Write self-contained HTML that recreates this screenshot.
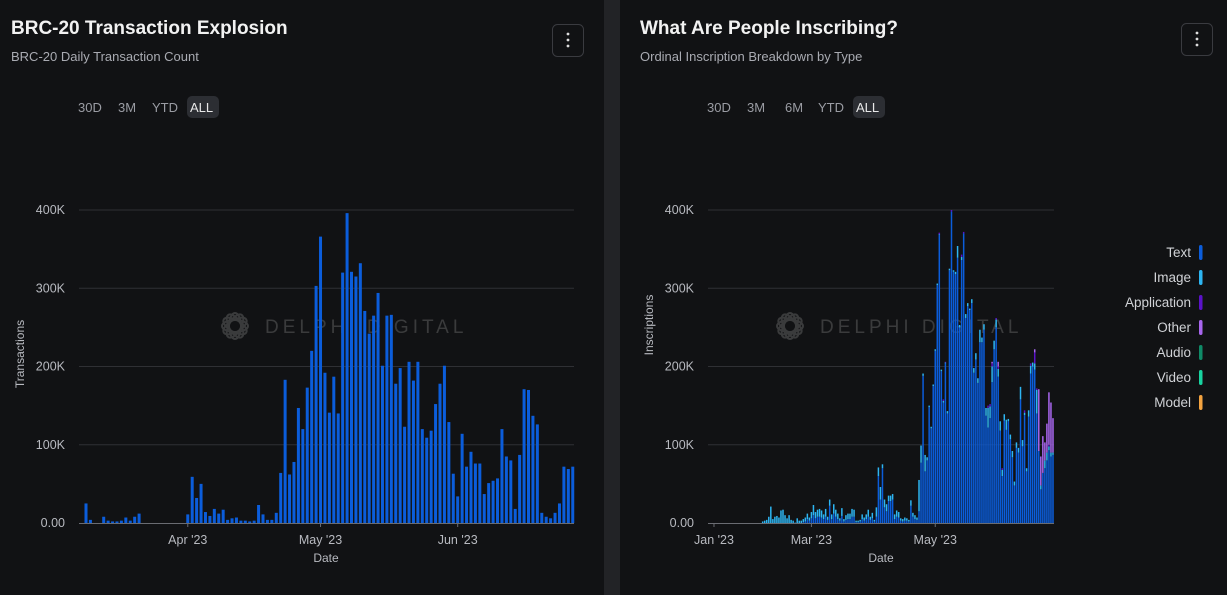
<!DOCTYPE html>
<html><head><meta charset="utf-8"><style>
html,body{margin:0;padding:0;background:#111214;}
svg{display:block;font-family:"Liberation Sans",sans-serif;}
</style></head><body>
<svg id="root" width="1227" height="595" viewBox="0 0 1227 595" xmlns="http://www.w3.org/2000/svg">
<rect x="0" y="0" width="1227" height="595" fill="#111214"/>
<rect x="604" y="0" width="16" height="595" fill="#222326"/>

<g>
<text x="11" y="34" fill="#f2f2f2" font-size="19" font-weight="bold">BRC-20 Transaction Explosion</text>
<text x="11" y="61" fill="#a9abb2" font-size="13">BRC-20 Daily Transaction Count</text>
<rect x="552.5" y="24.5" width="31" height="32" rx="5" fill="none" stroke="#3a3b40"/>
<g fill="#ddd"><circle cx="568" cy="34" r="1.4"/><circle cx="568" cy="40" r="1.4"/><circle cx="568" cy="46" r="1.4"/></g>
<text x="78" y="112" fill="#9a9ca3" font-size="13">30D</text>
<text x="118" y="112" fill="#9a9ca3" font-size="13">3M</text>
<text x="152" y="112" fill="#9a9ca3" font-size="13">YTD</text>
<rect x="187" y="96" width="32" height="22" rx="5" fill="#2c2e33"/>
<text x="190" y="112" fill="#e8e8e8" font-size="13">ALL</text>
</g>

<g>
<text x="640" y="34" fill="#f2f2f2" font-size="19" font-weight="bold">What Are People Inscribing?</text>
<text x="640" y="61" fill="#a9abb2" font-size="13">Ordinal Inscription Breakdown by Type</text>
<rect x="1181.5" y="23.5" width="31" height="32" rx="5" fill="none" stroke="#3a3b40"/>
<g fill="#ddd"><circle cx="1197" cy="33" r="1.4"/><circle cx="1197" cy="39" r="1.4"/><circle cx="1197" cy="45" r="1.4"/></g>
<text x="707" y="112" fill="#9a9ca3" font-size="13">30D</text>
<text x="747" y="112" fill="#9a9ca3" font-size="13">3M</text>
<text x="785" y="112" fill="#9a9ca3" font-size="13">6M</text>
<text x="818" y="112" fill="#9a9ca3" font-size="13">YTD</text>
<rect x="853" y="96" width="32" height="22" rx="5" fill="#2c2e33"/>
<text x="856" y="112" fill="#e8e8e8" font-size="13">ALL</text>
</g>

<g id="left-chart"></g>
<g id="right-chart"></g>
<g id="legend"></g>
</svg>
<script>
// ---- Left chart data (K transactions, daily from Mar 9 2023) ----
const leftValues = [25,4,0,0,8,3,2,2,3,7,3,8,12,0,0,0,0,0,0,0,0,0,0,11,59,32,50,14,9,18,12,17,4,6,7,3,3,2,3,23,11,4,4,13,64,183,62,78,147,120,173,220,303,366,192,141,187,140,320,396,321,315,332,271,242,265,294,201,265,266,178,198,123,206,182,206,120,109,118,152,178,201,129,63,34,114,72,91,76,76,37,51,54,57,120,85,80,18,87,171,170,137,126,13,8,6,13,25,72,69,72];
const leftYTicks = [0,100,200,300,400];
const leftYLabels = ["0.00","100K","200K","300K","400K"];
const leftXTickDays = [23,53,84];
const leftXLabels = ["Apr '23","May '23","Jun '23"];

// ---- Right chart data (K inscriptions, daily from Feb 5 2023) ----
const textSeries = [0,0,0,0,0,0,0,0,0,0,0,0,0,0,0,0,0,0,0,0,1,2,5,3,6,10,6,8,8,7,5,8,4,22,5,12,8,5,3,9,2,4,5,5,8,8,1,1,2,5,3,5,8,4,6,2,8,60,30,70,20,15,28,28,30,5,8,7,3,2,3,3,2,22,8,5,4,
15,77,188,66,80,148,121,175,220,304,368,194,154,204,140,323,398,321,318,339,250,336,370,262,277,272,281,192,209,179,231,231,247,137,122,134,180,222,250,187,118,60,131,119,130,107,84,48,96,90,158,98,138,66,136,191,200,196,140,92,43,64,70,80,93,85,87];
const imageSeries = [2,3,4,8,21,5,8,9,7,16,17,10,6,10,4,3,0.5,6,3,3,4,5,7,4,8,13,8,9,10,9,6,10,4,8,6,12,9,7,3,10,3,6,7,7,10,9,2,2,2,6,4,6,9,4,7,2,12,11,16,5,10,9,7,7,7,6,8,7,3,3,4,3,2,7,5,5,3,
40,22,3,21,4,2,2,2,2,2,1,2,2,1,3,2,0,2,3,15,3,4,0,5,4,2,5,6,8,6,16,6,7,10,25,15,20,11,10,10,12,8,8,13,3,6,8,5,7,6,16,8,3,4,8,10,5,8,30,0,5,0,10,10,5,5,3];
const applicationSeries = [0,0,0,0,0,0,0,0,0,0,0,0,0,0,0,0,0,0,0,0,0,0,0,0,0,0,0,0,0,0,0,0,0,0,0,0,0,0,0,0,0,0,0,0,0,0,0,0,0,0,0,0,0,0,0,0,0,0,0,0,0,0,0,0,0,0,0,0,0,0,0,0,0,0,0,0,0,
0,0,0,0,0,0,0,0,0,0,2,0,2,1,0,0,2,0,0,0,0,3,2,0,0,0,0,0,0,0,0,0,0,0,3,3,4,0,2,3,0,2,0,0,0,0,0,0,0,0,0,0,3,0,0,3,0,14,2,0,0,0,0,0,2,0,0];
const otherSeries = [0,0,0,0,0,0,0,0,0,0,0,0,0,0,0,0,0,0,0,0,0,0,0,0,0,0,0,0,0,0,0,0,0,0,0,0,0,0,0,0,0,0,0,0,0,0,0,0,0,0,0,0,0,0,0,0,0,0,0,0,0,0,0,0,0,0,0,0,0,0,0,0,0,0,0,0,0,
0,0,0,0,0,0,0,0,0,0,0,0,0,0,0,0,0,0,0,0,0,0,0,0,0,0,0,0,0,0,0,0,0,0,0,0,2,0,0,6,0,0,0,0,0,0,0,0,0,0,0,0,0,0,0,0,0,4,0,79,37,47,23,37,67,64,44];
const rightYTicks = [0,100,200,300,400];
const rightYLabels = ["0.00","100K","200K","300K","400K"];
const rightXTickDays = [-24,24,85];
const rightXLabels = ["Jan '23","Mar '23","May '23"];
const legendNames = ["Text","Image","Application","Other","Audio","Video","Model"];
const legendColors = ["#0b5ddb","#2db5f2","#5b12c9","#a866ee","#0f8a67","#18d3a0","#f3a340"];

const NS="http://www.w3.org/2000/svg";
function mk(parent,tag,attrs){const e=document.createElementNS(NS,tag);for(const k in attrs)e.setAttribute(k,attrs[k]);parent.appendChild(e);return e;}

function drawFrame(g,o){
  // gridlines and labels
  o.yTicks.forEach((t,i)=>{
    const y=o.y(t);
    if(t>0){const l=mk(g,'line',{x1:o.x0,x2:o.x1,y1:y,y2:y,stroke:'#2f3034','stroke-width':1});
    
    }
    const tx=mk(g,'text',{x:o.x0-14,y:y+4,fill:'#b8bac0','font-size':12.5,'text-anchor':'end'});
    tx.textContent=o.yLabels[i];
    
    
  });
  const ax=mk(g,'line',{x1:o.x0,x2:o.x1,y1:o.y(0)+0.5,y2:o.y(0)+0.5,stroke:'#6a6c72','stroke-width':1});
  
  
  o.xDays.forEach((d,i)=>{
    const x=o.x(d);
    const tk=mk(g,'line',{x1:x,x2:x,y1:o.y(0),y2:o.y(0)+4,stroke:'#6a6c72'});
    
    
    const tx=mk(g,'text',{x:x,y:o.y(0)+21,fill:'#b8bac0','font-size':12.5,'text-anchor':'middle'});
    tx.textContent=o.xLabels[i];
    
    
  });
  const xt=mk(g,'text',{x:o.xTitleX,y:o.y(0)+39,fill:'#b8bac0','font-size':12,'text-anchor':'middle'});
  xt.textContent='Date';
  
  
  const yt=mk(g,'text',{x:0,y:0,fill:'#b8bac0','font-size':12,'text-anchor':'middle',transform:`translate(${o.yTitleX},${o.yTitleY}) rotate(-90)`});
  yt.textContent=o.yTitle;
  
  
  // watermark
  const wm=mk(g,'g',{opacity:0.35});
  
  
  for(let k=0;k<6;k++){mk(wm,'ellipse',{cx:o.wmX,cy:o.wmY,rx:13,ry:6,fill:'none',stroke:'#888','stroke-width':2,transform:`rotate(${k*30} ${o.wmX} ${o.wmY})`});}
  const wt=mk(wm,'text',{x:o.wmX+30,y:o.wmY+7,fill:'#888','font-size':19,'letter-spacing':4});
  wt.textContent='DELPHI DIGITAL';
}

// LEFT
const L=document.getElementById('left-chart');
const lY=v=>523-v*0.7825, lX=d=>86+d*4.425;
drawFrame(L,{x0:79,x1:574,y:lY,yTicks:leftYTicks,yLabels:leftYLabels,x:lX,xDays:leftXTickDays,xLabels:leftXLabels,xTitleX:326,yTitle:'Transactions',yTitleX:24,yTitleY:354,wmX:235,wmY:326});
leftValues.forEach((v,i)=>{
  if(v<=0)return;
  const r=mk(L,'rect',{x:lX(i)-1.5,y:lY(v),width:3,height:523-lY(v),fill:'#0b5ddb'});
  
  
});

// RIGHT
const R=document.getElementById('right-chart');
const rY=v=>523-v*0.7825, rX=d=>762.7+d*2.03;
drawFrame(R,{x0:708,x1:1054,y:rY,yTicks:rightYTicks,yLabels:rightYLabels,x:rX,xDays:rightXTickDays,xLabels:rightXLabels,xTitleX:881,yTitle:'Inscriptions',yTitleX:653,yTitleY:325,wmX:790,wmY:326});
const series=[textSeries,imageSeries,applicationSeries,otherSeries];
textSeries.forEach((_,i)=>{
  let base=0;
  series.forEach((s,k)=>{
    const v=s[i]||0; if(v<=0)return;
    const r=mk(R,'rect',{x:rX(i)-0.75,y:rY(base+v),width:1.5,height:rY(base)-rY(base+v),fill:legendColors[k]});
    
    
    base+=v;
  });
});

// LEGEND
const G=document.getElementById('legend');
legendNames.forEach((n,i)=>{
  const y=252+i*25;
  const t=mk(G,'text',{x:1191,y:y+5,fill:'#d0d2d6','font-size':13.5,'text-anchor':'end'});
  t.textContent=n;
  
  
  const s=mk(G,'rect',{x:1199,y:y-7,width:3.5,height:15,rx:1.7,fill:legendColors[i]});
  
  
});
</script>
</body></html>
